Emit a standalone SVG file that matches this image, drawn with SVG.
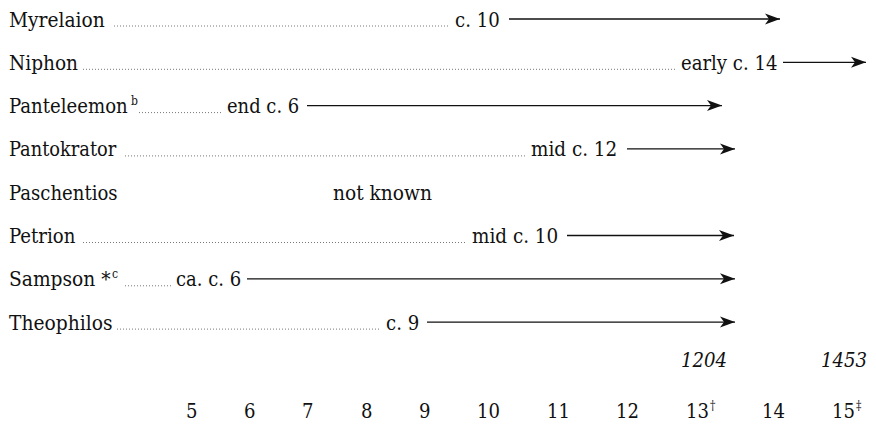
<svg xmlns="http://www.w3.org/2000/svg" width="876" height="431" viewBox="0 0 876 431">
  <style>
    text { font-family: 'DejaVu Serif Condensed', 'DejaVu Serif', serif; font-size: 21px; fill: #111; }
    .sup { font-size: 12px; }
    .it { font-style: italic; }
    .dots { stroke: #777; stroke-width: 1; stroke-dasharray: 1 2; fill: none; }
    .arrow { stroke: #111; stroke-width: 1.3; fill: none; marker-end: url(#head); }
  </style>
  <defs>
    <marker id="head" markerUnits="userSpaceOnUse" markerWidth="16" markerHeight="12" refX="15" refY="6" orient="auto" viewBox="0 0 16 12">
      <path d="M0,0.5 L15,6 L0,11.5 L4,6 Z" fill="#111"/>
    </marker>
  </defs>
  <rect width="876" height="431" fill="#fff"/>

  <g id="row-myrelaion">
    <text x="9" y="26.5" textLength="95.8" lengthAdjust="spacingAndGlyphs">Myrelaion</text>
    <text x="455" y="26.5" textLength="44.7" lengthAdjust="spacingAndGlyphs">c. 10</text>
  </g>
  <g id="row-niphon">
    <text x="9" y="69.8" textLength="69" lengthAdjust="spacingAndGlyphs">Niphon</text>
    <text x="681" y="69.8" textLength="96.4" lengthAdjust="spacingAndGlyphs">early c. 14</text>
  </g>
  <g id="row-panteleemon">
    <text x="9" y="113.1" textLength="118.8" lengthAdjust="spacingAndGlyphs">Panteleemon</text>
    <text class="sup" x="131" y="104.5">b</text>
    <text x="227" y="113.1" textLength="72.2" lengthAdjust="spacingAndGlyphs">end c. 6</text>
  </g>
  <g id="row-pantokrator">
    <text x="9" y="156.4" textLength="107.3" lengthAdjust="spacingAndGlyphs">Pantokrator</text>
    <text x="531" y="156.4" textLength="86.2" lengthAdjust="spacingAndGlyphs">mid c. 12</text>
  </g>
  <g id="row-paschentios">
    <text x="9" y="199.7" textLength="108.6" lengthAdjust="spacingAndGlyphs">Paschentios</text>
    <text x="333" y="199.7" textLength="99" lengthAdjust="spacingAndGlyphs">not known</text>
  </g>
  <g id="row-petrion">
    <text x="9" y="243" textLength="66.4" lengthAdjust="spacingAndGlyphs">Petrion</text>
    <text x="472" y="243" textLength="86.2" lengthAdjust="spacingAndGlyphs">mid c. 10</text>
  </g>
  <g id="row-sampson">
    <text x="9" y="286.3" textLength="101.6" lengthAdjust="spacingAndGlyphs">Sampson *</text>
    <text class="sup" x="112" y="278.3">c</text>
    <text x="176" y="286.3" textLength="65.1" lengthAdjust="spacingAndGlyphs">ca. c. 6</text>
  </g>
  <g id="row-theophilos">
    <text x="9" y="329.6" textLength="103.5" lengthAdjust="spacingAndGlyphs">Theophilos</text>
    <text x="386" y="329.6" textLength="33.2" lengthAdjust="spacingAndGlyphs">c. 9</text>
  </g>

  <g id="dates">
    <text class="it" x="681" y="367" textLength="46" lengthAdjust="spacingAndGlyphs">1204</text>
    <text class="it" x="821" y="367" textLength="46" lengthAdjust="spacingAndGlyphs">1453</text>
  </g>

  <g id="axis">
    <text x="186" y="418" textLength="11.5" lengthAdjust="spacingAndGlyphs">5</text>
    <text x="244" y="418" textLength="11.5" lengthAdjust="spacingAndGlyphs">6</text>
    <text x="302" y="418" textLength="11.5" lengthAdjust="spacingAndGlyphs">7</text>
    <text x="361" y="418" textLength="11.5" lengthAdjust="spacingAndGlyphs">8</text>
    <text x="419" y="418" textLength="11.5" lengthAdjust="spacingAndGlyphs">9</text>
    <text x="477" y="418" textLength="23" lengthAdjust="spacingAndGlyphs">10</text>
    <text x="547" y="418" textLength="23" lengthAdjust="spacingAndGlyphs">11</text>
    <text x="616" y="418" textLength="23" lengthAdjust="spacingAndGlyphs">12</text>
    <text x="686" y="418" textLength="23" lengthAdjust="spacingAndGlyphs">13</text>
    <text class="sup" x="710" y="410">†</text>
    <text x="762" y="418" textLength="23" lengthAdjust="spacingAndGlyphs">14</text>
    <text x="832" y="418" textLength="23" lengthAdjust="spacingAndGlyphs">15</text>
    <text class="sup" x="856" y="410">‡</text>
  </g>

  <g id="connectors">
    <line class="dots" x1="114" y1="26" x2="450" y2="26"/>
    <line class="arrow" x1="509" y1="19" x2="780" y2="19"/>
    <line class="dots" x1="83" y1="69.3" x2="677" y2="69.3"/>
    <line class="arrow" x1="783" y1="62.3" x2="866" y2="62.3"/>
    <line class="dots" x1="139" y1="112.6" x2="221" y2="112.6"/>
    <line class="arrow" x1="307" y1="105.6" x2="722" y2="105.6"/>
    <line class="dots" x1="125" y1="155.9" x2="526" y2="155.9"/>
    <line class="arrow" x1="627" y1="148.9" x2="735" y2="148.9"/>
    <line class="dots" x1="83" y1="242.5" x2="467" y2="242.5"/>
    <line class="arrow" x1="567" y1="235.5" x2="734" y2="235.5"/>
    <line class="dots" x1="125" y1="285.8" x2="171" y2="285.8"/>
    <line class="arrow" x1="247" y1="278.8" x2="735" y2="278.8"/>
    <line class="dots" x1="117" y1="329.1" x2="381" y2="329.1"/>
    <line class="arrow" x1="427" y1="322.1" x2="735" y2="322.1"/>
  </g>
</svg>
